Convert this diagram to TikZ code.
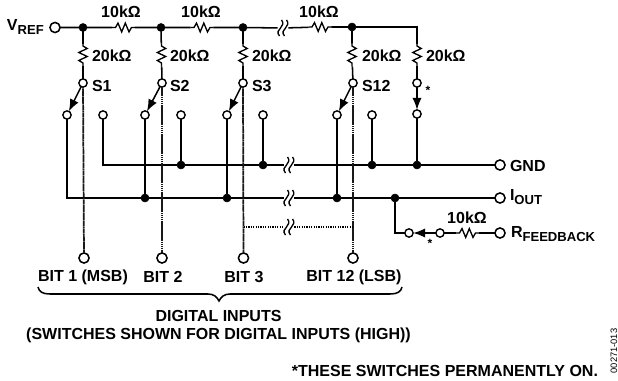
\documentclass[tikz,border=0pt]{standalone}
\usepackage{fontspec}
\setmainfont{Liberation Sans}
\usetikzlibrary{arrows.meta}
\newcommand{\lowtxt}[1]{\raisebox{-2.8pt}{\fontsize{9.8}{12}\selectfont #1}}
\tikzset{
  x=0.75pt,y=-0.75pt,
  wire/.style={line width=1.15pt,line cap=butt,line join=miter},
  dotwire/.style={line width=1.3pt,dash pattern=on 1.2pt off 0.25pt,color=black!90},
  dotbridge/.style={line width=1.05pt,dash pattern=on 1pt off 0.8pt},
  junct/.style={circle,fill=black,draw=black,inner sep=0pt,minimum size=6pt,outer sep=0pt},
  cont/.style={circle,draw=black,fill=white,line width=1.05pt,inner sep=0pt,minimum size=6.2pt,outer sep=0pt},
  term/.style={circle,draw=black,fill=white,line width=1.15pt,inner sep=0pt,minimum size=7.6pt,outer sep=0pt},
  resh/.style={inner sep=0pt,outer sep=0pt,minimum width=17pt,minimum height=6pt},
  resv/.style={inner sep=0pt,outer sep=0pt,minimum width=6pt,minimum height=17pt},
  brk/.style={inner sep=0pt,outer sep=0pt,minimum width=8pt,minimum height=10pt},
  lab/.style={inner sep=0pt,outer sep=0pt,font=\fontsize{12}{14}\selectfont\bfseries},
  swarrow/.style={wire,-{Latex[length=9pt,width=7pt]},shorten >=0pt},
  zigh/.pic={\draw[wire,line width=1pt] (-11.5,0)--(-8,0)--(-5.5,-4.4)--(-1.8,4.4)--(1.8,-4.4)--(5.5,4.4)--(8,0)--(11.5,0);},
  zigv/.pic={\draw[wire,line width=1pt] (0,-11.5)--(0,-9)--(4.2,-6.5)--(-4.2,-2.5)--(4.2,1.5)--(-4.2,5.5)--(0,8)--(0,11.5);},
  zigb/.pic={\draw[wire,line width=1pt]
     (-3.5,8) .. controls (-6.5,4.5) and (-4.5,2) .. (-2.5,0) .. controls (-0.5,-2) and (1,-5) .. (-1.5,-8)
     (1.5,8) .. controls (-1.5,4.5) and (0.5,2) .. (2.5,0) .. controls (4.5,-2) and (6,-5) .. (3.5,-8);},
}
\begin{document}
\begin{tikzpicture}
\useasboundingbox (0,0) rectangle (618,381);
% top rail nodes
\node[term] (vref) at (55,27.5) {};
\node[junct] (j1) at (83,27.5) {};
\node[junct] (j2) at (161,27.5) {};
\node[junct] (j3) at (243,27.5) {};
\node[junct] (j4) at (352,27) {};
\coordinate (tr) at (417,27);
\node[resh] (r1) at (123.5,27.5) {};
\node[resh] (r2) at (202,27.5) {};
\node[resh] (r3) at (320,27) {};
\node[brk] (b1) at (283,28) {};
\draw[wire] (vref) -- (j1) -- (r1) -- (j2) -- (r2) -- (j3) -- (b1) -- (r3) -- (j4) -- (tr) -- (417,43);
\foreach \n in {r1,r2,r3} \pic at (\n) {zigh};
\pic at (b1) {zigb};
% 20k resistors
\foreach \n/\x in {v1/83,v2/161.5,v3/243,v4/352,v5/417} \node[resv] (\n) at (\x,55) {};
\foreach \n in {v1,v2,v3,v4,v5} \pic at (\n) {zigv};
% switch poles
\node[cont] (s1) at (83,83) {};
\node[cont] (s2) at (162,83) {};
\node[cont] (s3) at (243,83) {};
\node[cont] (s4) at (353,83) {};
\node[cont] (s5) at (417,83) {};
\draw[wire] (j1) -- (v1) -- (s1);
\draw[wire] (j2) -- (v2) -- (s2);
\draw[wire] (j3) -- (v3) -- (s3);
\draw[wire] (j4) -- (v4) -- (s4);
\draw[wire] (tr) -- (v5) -- (s5);
% contacts
\node[cont] (a1) at (67,115) {};
\node[cont] (c1) at (103,115) {};
\node[cont] (a2) at (145,115) {};
\node[cont] (c2) at (181,115) {};
\node[cont] (a3) at (227,115) {};
\node[cont] (c3) at (263,115) {};
\node[cont] (a4) at (337,115) {};
\node[cont] (c4) at (372,115) {};
\node[cont] (c5) at (417,114) {};
% GND rail
\node[term] (gnd) at (500,165) {};
\coordinate (gc) at (103,165);
\node[junct] (g2) at (181,165) {};
\node[junct] (g3) at (263,165) {};
\node[junct] (g4) at (372,165) {};
\node[junct] (g5) at (417,165) {};
\node[brk] (b2) at (289,165) {};
\draw[wire] (c1) -- (gc) -- (g2) -- (g3) -- (b2) -- (g4) -- (g5) -- (gnd);
\pic at (b2) {zigb};
\draw[wire] (c2) -- (g2);
\draw[wire] (c3) -- (g3);
\draw[wire] (c4) -- (g4);
\draw[wire] (c5) -- (g5);
% Iout rail
\node[term] (iout) at (500,198) {};
\coordinate (ic) at (67,198);
\node[junct] (i2) at (145,198) {};
\node[junct] (i3) at (227,198) {};
\node[junct] (i4) at (337,198) {};
\node[junct] (i5) at (395,198) {};
\node[brk] (b3) at (289,198) {};
\draw[wire] (a1) -- (ic) -- (i2) -- (i3) -- (b3) -- (i4) -- (i5) -- (iout);
\pic at (b3) {zigb};
\draw[wire] (a2) -- (i2);
\draw[wire] (a3) -- (i3);
\draw[wire] (a4) -- (i4);
% bit lines
\node[term] (t1) at (84,258) {};
\node[term] (t2) at (162,258) {};
\node[term] (t3) at (243.5,258) {};
\node[term] (t4) at (353,258) {};
\draw[dotwire] (s1) -- (t1);
\draw[dotwire] (s2) -- (t2);
\draw[dotwire] (s3) -- (t3);
\draw[dotwire] (s4) -- (t4);
% dotted bridge
\coordinate (d3) at (243.5,227);
\coordinate (d4) at (353,227);
\node[brk] (b4) at (289,227) {};
\draw[dotbridge] (d3) -- (b4) -- (d4);
\pic at (b4) {zigb};
% switch arrows
\draw[swarrow] (s1) -- (a1);
\draw[swarrow] (s2) -- (a2);
\draw[swarrow] (s3) -- (a3);
\draw[swarrow] (s4) -- (a4);
\draw[swarrow] (s5) -- (c5);
% feedback
\coordinate (fc) at (395,233);
\node[cont] (f1) at (409,233) {};
\node[cont] (f2) at (440,233) {};
\node[resh] (r4) at (467.5,233) {};
\node[term] (rfb) at (500,233) {};
\draw[wire] (i5) -- (fc) -- (f1);
\draw[swarrow] (f2) -- (f1);
\draw[wire] (f2) -- (r4) -- (rfb);
\pic at (r4) {zigh};
% labels
\node[lab,anchor=west] (lv) at (7,27) {V\lowtxt{REF}};
\node[lab] (l1) at (121,12) {10kΩ};
\node[lab] (l2) at (201,12) {10kΩ};
\node[lab] (l3) at (319,12) {10kΩ};
\node[lab,anchor=west] (l4) at (92,55.5) {20kΩ};
\node[lab,anchor=west] (l5) at (170,55.5) {20kΩ};
\node[lab,anchor=west] (l6) at (252,55.5) {20kΩ};
\node[lab,anchor=west] (l7) at (362,55.5) {20kΩ};
\node[lab,anchor=west] (l8) at (426,55.5) {20kΩ};
\node[lab,anchor=west] (ls1) at (92,86) {S1};
\node[lab,anchor=west] (ls2) at (170,86) {S2};
\node[lab,anchor=west] (ls3) at (252,86) {S3};
\node[lab,anchor=west] (ls4) at (362,86) {S12};
\node[lab,font=\fontsize{9}{10}\selectfont\bfseries] (st1) at (428,90) {*};
\node[lab,font=\fontsize{9}{10}\selectfont\bfseries] (st2) at (430,243) {*};
\node[lab,anchor=west] (lg) at (510,165.5) {GND};
\node[lab,anchor=west] (li) at (510,197) {I\lowtxt{OUT}};
\node[lab,anchor=west] (lr) at (511,234) {R\lowtxt{FEEDBACK}};
\node[lab] (lk) at (467,218) {10kΩ};
\node[lab] (bb1) at (83,277) {BIT 1 (MSB)};
\node[lab] (bb2) at (163,277) {BIT 2};
\node[lab] (bb3) at (244,277) {BIT 3};
\node[lab] (bb4) at (354,277) {BIT 12 (LSB)};
% brace
\coordinate (bl) at (38,287);
\coordinate (br) at (402,287);
\coordinate (bt) at (219,301);
\draw[wire] (bl) .. controls (39,292) and (43,294) .. (50,294) -- (208,294) .. controls (214,294) and (217,297) .. (bt) .. controls (221,297) and (224,294) .. (230,294) -- (390,294) .. controls (397,294) and (401,292) .. (br);
\node[lab] (d1) at (218.5,316) {DIGITAL INPUTS};
\node[lab] (d2) at (218.5,335) {(SWITCHES SHOWN FOR DIGITAL INPUTS (HIGH))};
\node[lab,anchor=east] (d5) at (598,371) {*THESE SWITCHES PERMANENTLY ON.};
\node[inner sep=0pt,rotate=90,font=\fontsize{7}{8}\selectfont] (code) at (614,351) {00271-013};
\end{tikzpicture}
\end{document}
